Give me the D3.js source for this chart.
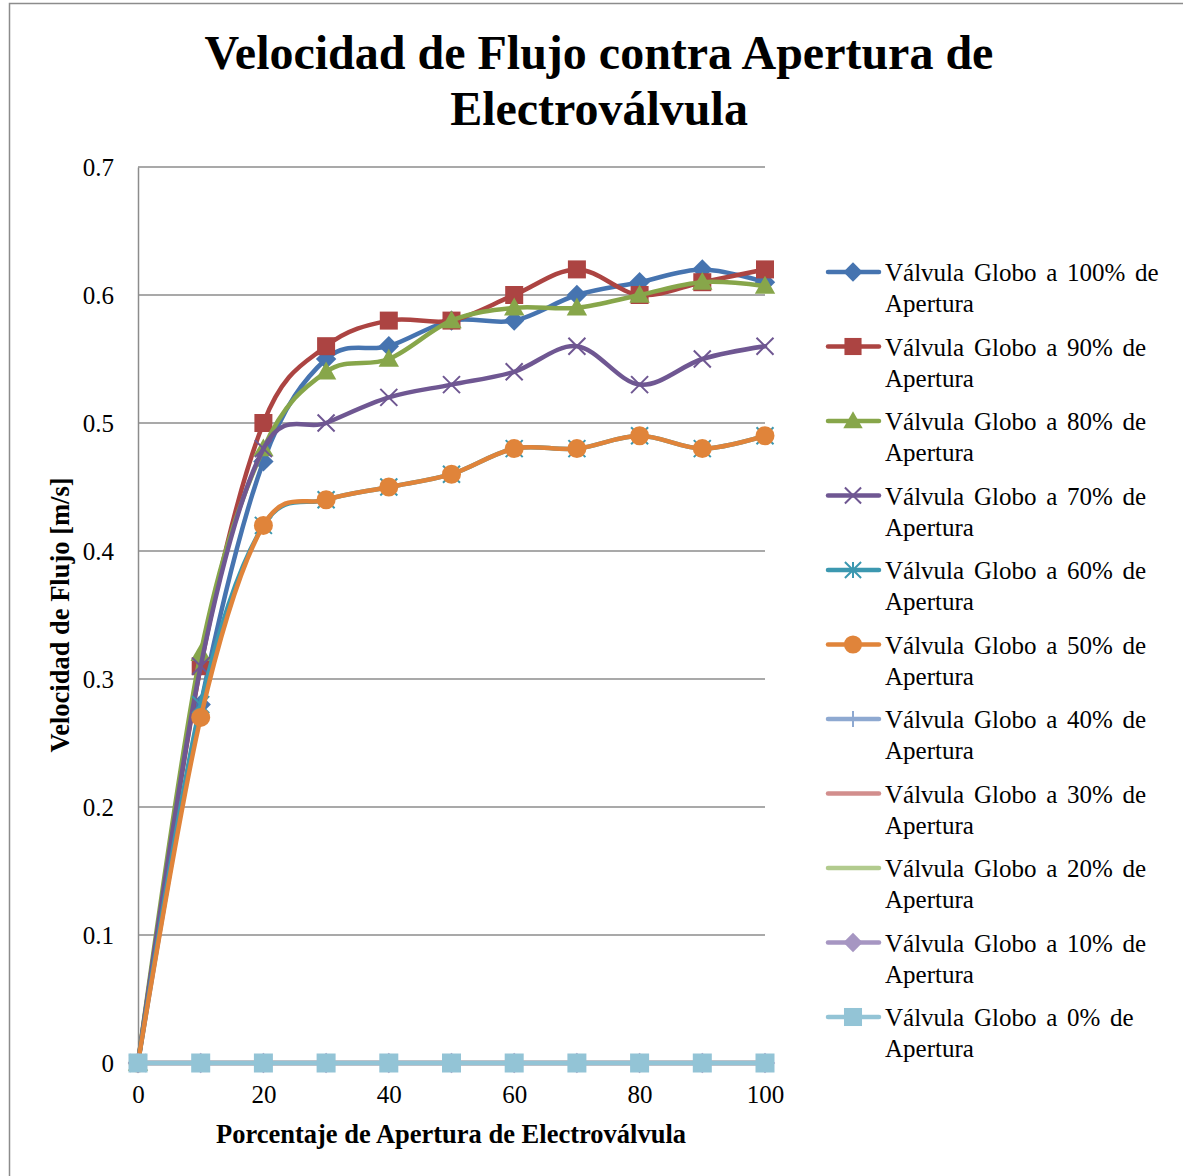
<!DOCTYPE html>
<html>
<head>
<meta charset="utf-8">
<script src="https://cdn.jsdelivr.net/npm/d3@7"></script>
<style>
  html, body { margin: 0; padding: 0; background: #fff; }
  svg { display: block; font-family: "Liberation Serif", "Times New Roman", serif; }
  svg text { font-family: "Liberation Serif", "Times New Roman", serif; }
</style>
</head>
<body>
<svg id="chart" width="1183" height="1176"></svg>
<script>
// Opening percentages of the solenoid valve (x axis)
const aperturas = [0, 10, 20, 30, 40, 50, 60, 70, 80, 90, 100];

// Flow velocity [m/s] for each globe-valve opening
const globo100 = [0, 0.28, 0.47, 0.55, 0.56, 0.58, 0.58, 0.60, 0.61, 0.62, 0.61];
const globo90  = [0, 0.31, 0.50, 0.56, 0.58, 0.58, 0.60, 0.62, 0.60, 0.61, 0.62];
const globo80  = [0, 0.32, 0.48, 0.54, 0.55, 0.58, 0.59, 0.59, 0.60, 0.61, 0.607];
const globo70  = [0, 0.31, 0.48, 0.50, 0.52, 0.53, 0.54, 0.56, 0.53, 0.55, 0.56];
const globo60  = [0, 0.28, 0.42, 0.44, 0.45, 0.46, 0.48, 0.48, 0.49, 0.48, 0.49];
const globo50  = [0, 0.27, 0.42, 0.44, 0.45, 0.46, 0.48, 0.48, 0.49, 0.48, 0.49];
const globo40  = [0, 0, 0, 0, 0, 0, 0, 0, 0, 0, 0];
const globo30  = [0, 0, 0, 0, 0, 0, 0, 0, 0, 0, 0];
const globo20  = [0, 0, 0, 0, 0, 0, 0, 0, 0, 0, 0];
const globo10  = [0, 0, 0, 0, 0, 0, 0, 0, 0, 0, 0];
const globo0   = [0, 0, 0, 0, 0, 0, 0, 0, 0, 0, 0];

const seriesNames = [
  "Válvula Globo a 100% de Apertura",
  "Válvula Globo a 90% de Apertura",
  "Válvula Globo a 80% de Apertura",
  "Válvula Globo a 70% de Apertura",
  "Válvula Globo a 60% de Apertura",
  "Válvula Globo a 50% de Apertura",
  "Válvula Globo a 40% de Apertura",
  "Válvula Globo a 30% de Apertura",
  "Válvula Globo a 20% de Apertura",
  "Válvula Globo a 10% de Apertura",
  "Válvula Globo a 0% de Apertura"
];
const seriesValues = [globo100, globo90, globo80, globo70, globo60, globo50,
                      globo40, globo30, globo20, globo10, globo0];
const seriesColors = ["#4674B0", "#AC4442", "#87A64A", "#6F5792", "#3C98B0", "#E0843A",
                      "#8EA9D1", "#D28E8D", "#B2CB8E", "#A696C2", "#93C4D6"];
const seriesMarkers = ["diamond", "square", "triangle", "x", "asterisk", "circle",
                       "plus", "none", "none", "diamond", "square"];

const yTicks = [0, 0.1, 0.2, 0.3, 0.4, 0.5, 0.6, 0.7];
const xTicks = [0, 20, 40, 60, 80, 100];

const FONT = "'Liberation Serif', 'Times New Roman', serif";
const svg = d3.select("#chart");

// Outer chart frame
svg.append("rect")
  .attr("x", 9.5).attr("y", 3.5)
  .attr("width", 1200).attr("height", 1200)
  .attr("fill", "#fff").attr("stroke", "#8c8c8c").attr("stroke-width", 1.5);

const plot = { left: 138, right: 765, top: 167, bottom: 1063 };
const x = d3.scaleLinear().domain([0, 100]).range([plot.left, plot.right]);
const y = d3.scaleLinear().domain([0, 0.7]).range([plot.bottom, plot.top]);

// Title
svg.append("text")
  .attr("x", 599).attr("y", 69)
  .attr("text-anchor", "middle")
  .attr("font-family", FONT)
  .attr("font-size", 48).attr("font-weight", "bold")
  .text("Velocidad de Flujo contra Apertura de");
svg.append("text")
  .attr("x", 599).attr("y", 125)
  .attr("text-anchor", "middle")
  .attr("font-family", FONT)
  .attr("font-size", 48).attr("font-weight", "bold")
  .text("Electroválvula");

// Horizontal gridlines
svg.append("g")
  .selectAll("line")
  .data(yTicks.slice(1))
  .join("line")
  .attr("x1", plot.left).attr("x2", plot.right)
  .attr("y1", d => y(d)).attr("y2", d => y(d))
  .attr("stroke", "#8c8c8c").attr("stroke-width", 1.5);

// Y axis
const yAxis = svg.append("g")
  .attr("transform", `translate(${plot.left},0)`)
  .call(d3.axisLeft(y).tickValues(yTicks).tickSize(0).tickPadding(24)
    .tickFormat(d => d === 0 ? "0" : d3.format(".1f")(d)));
yAxis.attr("font-family", FONT).attr("font-size", 25);
yAxis.select(".domain").attr("stroke", "#8c8c8c").attr("stroke-width", 1.5);
yAxis.selectAll("text").attr("fill", "#000");

// X axis
const xAxis = svg.append("g")
  .attr("transform", `translate(0,${plot.bottom})`)
  .call(d3.axisBottom(x).tickValues(xTicks).tickSize(0).tickPadding(22));
xAxis.attr("font-family", FONT).attr("font-size", 25);
xAxis.select(".domain").attr("stroke", "#8c8c8c").attr("stroke-width", 1.5);
xAxis.selectAll("text").attr("fill", "#000");

// Axis titles
svg.append("text")
  .attr("x", 451).attr("y", 1143)
  .attr("text-anchor", "middle")
  .attr("font-family", FONT)
  .attr("font-size", 26.5).attr("font-weight", "bold")
  .text("Porcentaje de Apertura de Electroválvula");
svg.append("text")
  .attr("transform", "translate(69,615) rotate(-90)")
  .attr("text-anchor", "middle")
  .attr("font-family", FONT)
  .attr("font-size", 26.5).attr("font-weight", "bold")
  .text("Velocidad de Flujo [m/s]");

// Marker drawing
function drawMarker(g, type, color, size) {
  const s = size;
  switch (type) {
    case "diamond":
      g.append("path").attr("d", `M0,${-s * 0.6}L${s * 0.6},0L0,${s * 0.6}L${-s * 0.6},0Z`).attr("fill", color);
      break;
    case "square":
      g.append("rect").attr("x", -s / 2).attr("y", -s / 2).attr("width", s).attr("height", s).attr("fill", color);
      break;
    case "triangle":
      g.append("path").attr("d", `M0,${-s * 0.6}L${s * 0.6},${s * 0.45}L${-s * 0.6},${s * 0.45}Z`).attr("fill", color);
      break;
    case "x":
      g.append("path").attr("d", `M${-s / 2},${-s / 2}L${s / 2},${s / 2}M${-s / 2},${s / 2}L${s / 2},${-s / 2}`)
        .attr("stroke", color).attr("stroke-width", 2).attr("fill", "none");
      break;
    case "asterisk":
      g.append("path").attr("d", `M${-s / 2},${-s / 2}L${s / 2},${s / 2}M${-s / 2},${s / 2}L${s / 2},${-s / 2}M0,${-s / 2}L0,${s / 2}`)
        .attr("stroke", color).attr("stroke-width", 2).attr("fill", "none");
      break;
    case "circle":
      g.append("circle").attr("r", s / 2).attr("fill", color);
      break;
    case "plus":
      g.append("path").attr("d", `M0,${-s / 2}L0,${s / 2}`)
        .attr("stroke", color).attr("stroke-width", 2).attr("fill", "none");
      break;
  }
}

const line = d3.line()
  .x((d, i) => x(aperturas[i]))
  .y(d => y(d))
  .curve(d3.curveCatmullRom.alpha(0));

const markerSize = [17, 18, 17, 17, 17, 19, 17, 0, 0, 17, 19];

// Series: lines and markers
const seriesG = svg.append("g");
seriesValues.forEach((vals, si) => {
  const g = seriesG.append("g");
  g.append("path")
    .datum(vals)
    .attr("d", line)
    .attr("fill", "none")
    .attr("stroke", seriesColors[si])
    .attr("stroke-width", 4.5)
    .attr("stroke-linejoin", "round")
    .attr("stroke-linecap", "round");
  if (seriesMarkers[si] !== "none") {
    vals.forEach((v, i) => {
      const mg = g.append("g").attr("transform", `translate(${x(aperturas[i])},${y(v)})`);
      drawMarker(mg, seriesMarkers[si], seriesColors[si], markerSize[si]);
    });
  }
});

// Legend
const legend = svg.append("g");
const legendTop = 272;
const legendStep = 74.5;
seriesNames.forEach((name, i) => {
  const cy = legendTop + i * legendStep;
  const g = legend.append("g");
  g.append("line")
    .attr("x1", 828).attr("x2", 879)
    .attr("y1", cy).attr("y2", cy)
    .attr("stroke", seriesColors[i]).attr("stroke-width", 4.5)
    .attr("stroke-linecap", "round");
  if (seriesMarkers[i] !== "none") {
    const mg = g.append("g").attr("transform", `translate(853,${cy})`);
    drawMarker(mg, seriesMarkers[i], seriesColors[i], markerSize[i] * 0.95);
  }
  const words = name.split(" ");
  const first = words.slice(0, -1).join(" ");
  const second = words[words.length - 1];
  g.append("text").attr("x", 885).attr("y", cy + 9)
    .attr("font-family", FONT)
    .attr("font-size", 25).attr("fill", "#000")
    .attr("word-spacing", 3.5)
    .text(first);
  g.append("text").attr("x", 885).attr("y", cy + 40)
    .attr("font-family", FONT)
    .attr("font-size", 25).attr("fill", "#000")
    .text(second);
});
</script>
</body>
</html>
